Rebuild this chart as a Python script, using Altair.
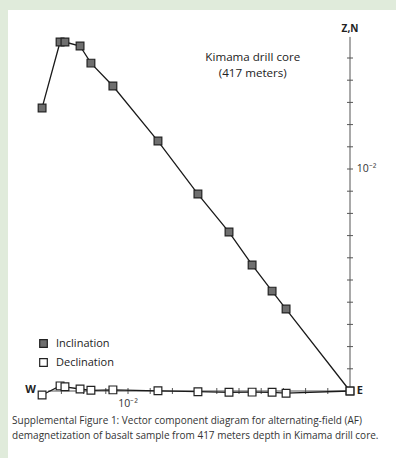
import altair as alt
import pandas as pd

# ---- data (units of 1e-3, east/west along x; Z or N along y) ----
step = list(range(13))
east = [-13.87, -13.06, -12.84, -12.16, -11.67, -10.68, -8.65, -6.85, -5.45, -4.41, -3.51, -2.88, 0.0]
vert_z = [12.75, 15.72, 15.72, 15.54, 14.77, 13.74, 11.26, 8.87, 7.16, 5.68, 4.50, 3.69, 0.0]
horiz_n = [-0.18, 0.23, 0.19, 0.09, 0.03, 0.05, 0.01, -0.03, -0.06, -0.05, -0.06, -0.10, 0.0]
series = ["Inclination", "Declination"]
v_ticks = list(range(1, 16))
h_ticks = list(range(-13, 0))
tick_label = "10\u207b\u00b2"

W, H = 396, 458
K = 22.2            # pixels per 1e-3
ox, oy = 350, 391   # pixel position of origin
xdom = [-ox / K, (W - ox) / K]
ydom = [(oy - H) / K, oy / K]

rows = []
for i, x, z, n in zip(step, east, vert_z, horiz_n):
    rows.append({"series": series[0], "idx": i, "x": x, "y": z})
    rows.append({"series": series[1], "idx": i, "x": x, "y": n})
df = pd.DataFrame(rows)

xs = alt.Scale(domain=xdom, nice=False, zero=False)
ys = alt.Scale(domain=ydom, nice=False, zero=False)
X = lambda f: alt.X(f, type="quantitative", scale=xs, axis=None)
Y = lambda f: alt.Y(f, type="quantitative", scale=ys, axis=None)

bg = alt.Chart(pd.DataFrame({"a": [0]})).mark_rect(color="white").encode(
    x=alt.value(8), x2=alt.value(W), y=alt.value(10), y2=alt.value(H))

half = 3 / K
axes_df = pd.DataFrame({"x": [0, -13.6], "x2": [0, 0], "y": [0, 0], "y2": [15.95, 0]})
axes = alt.Chart(axes_df).mark_rule(color="#555", strokeWidth=1).encode(
    x=X("x"), x2="x2", y=Y("y"), y2="y2")

vt = pd.DataFrame({"y": v_ticks})
vt["x"] = -half
vt["x2"] = half
vticks = alt.Chart(vt).mark_rule(color="#555", strokeWidth=1).encode(
    x=X("x"), x2="x2", y=Y("y"))
ht = pd.DataFrame({"x": h_ticks})
ht["y"] = -half
ht["y2"] = half
hticks = alt.Chart(ht).mark_rule(color="#555", strokeWidth=1).encode(
    x=X("x"), y=Y("y"), y2="y2")

lines = alt.Chart(df).mark_line(color="#1a1a1a", strokeWidth=1.3).encode(
    x=X("x"), y=Y("y"), detail="series:N", order="idx:Q")

pts = alt.Chart(df).mark_point(shape="square", size=60, filled=False, opacity=1,
                               stroke="#222", strokeWidth=1.2).encode(
    x=X("x"), y=Y("y"),
    fill=alt.Fill("series:N", scale=alt.Scale(domain=series, range=["#6f6f6f", "white"]),
                  legend=alt.Legend(title=None, orient="none", legendX=38, legendY=338,
                                    symbolType="square", symbolSize=58,
                                    symbolStrokeColor="#222", symbolStrokeWidth=1.2,
                                    labelFontSize=11, labelFont="Open Sans",
                                    labelColor="#222", labelOffset=7,
                                    rowPadding=6, padding=0)))

lab_df = pd.DataFrame({
    "x": [0, 0.3, -14.15, 0.3, -10.0],
    "y": [16.3, 0, 0.05, 10.0, -0.6],
    "t": ["Z,N", "E", "W", tick_label, tick_label],
})
lab_zn = alt.Chart(lab_df.iloc[[0]]).mark_text(font="Open Sans", fontWeight="bold", fontSize=10,
                                              color="#222").encode(x=X("x"), y=Y("y"), text="t")
lab_e = alt.Chart(lab_df.iloc[[1]]).mark_text(font="Open Sans", fontWeight="bold", fontSize=11,
                                             color="#222", align="left").encode(x=X("x"), y=Y("y"), text="t")
lab_w = alt.Chart(lab_df.iloc[[2]]).mark_text(font="Open Sans", fontWeight="bold", fontSize=11,
                                             color="#222", align="right").encode(x=X("x"), y=Y("y"), text="t")
lab_v = alt.Chart(lab_df.iloc[[3]]).mark_text(font="Open Sans", fontSize=10.5, color="#333",
                                             align="left").encode(x=X("x"), y=Y("y"), text="t")
lab_h = alt.Chart(lab_df.iloc[[4]]).mark_text(font="Open Sans", fontSize=10.5, color="#333"
                                             ).encode(x=X("x"), y=Y("y"), text="t")

title_df = pd.DataFrame({"t": ["Kimama drill core", "(417 meters)"], "x": [-4.38, -4.38], "y": [15.02, 14.3]})
title = alt.Chart(title_df).mark_text(font="Open Sans", fontSize=11.6, color="#222").encode(
    x=X("x"), y=Y("y"), text="t")

cap_df = pd.DataFrame({
    "t": ["Supplemental Figure 1:  Vector component diagram for alternating-field (AF)",
          "demagnetization of basalt sample from 417 meters depth in Kimama drill core."],
    "x": [-15.22, -15.22], "y": [-1.36, -2.03]})
caption = alt.Chart(cap_df).mark_text(font="Open Sans", fontSize=10, color="#333", align="left").encode(
    x=X("x"), y=Y("y"), text="t")

chart = alt.layer(bg, axes, vticks, hticks, lines, pts, lab_zn, lab_e, lab_w, lab_v, lab_h,
                  title, caption).properties(
    width=W, height=H, padding=0, autosize=alt.AutoSizeParams(type="none"),
    background="#e0ebdb"
).configure_view(stroke=None)

chart.save("out.html", embed_options={"renderer": "svg", "actions": False})
